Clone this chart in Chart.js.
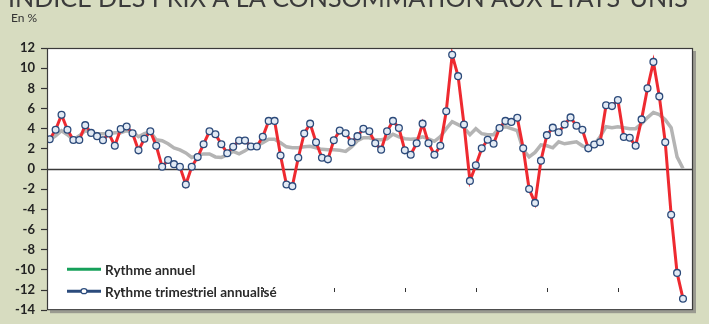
<!DOCTYPE html>
<html>
<head>
<meta charset="utf-8">
<script src="https://cdn.jsdelivr.net/npm/chart.js@4.4.1/dist/chart.umd.min.js"></script>
<style>
  html, body { margin: 0; padding: 0; background: #d7dcc0; }
  #wrap { position: relative; width: 709px; height: 324px; }
</style>
</head>
<body>
<div id="wrap"><canvas id="c" width="709" height="324"></canvas></div>
<script>
// Monthly observations, January 2000 to December 2008
const years = [2000, 2001, 2002, 2003, 2004, 2005, 2006, 2007, 2008];
const months = ['janv.', 'févr.', 'mars', 'avr.', 'mai', 'juin', 'juil.', 'août', 'sept.', 'oct.', 'nov.', 'déc.'];
const categories = years.flatMap(y => months.map(m => m + ' ' + y));

// Year-on-year rate, %
const annualRate = [
  2.9, 3.3, 3.8, 3.4, 2.9, 3.3, 3.8, 3.6, 3.5, 3.5, 3.5, 3.6,
  3.6, 3.8, 3.7, 3.2, 3.5, 3.7, 2.9, 2.8, 2.5, 2.1, 1.9, 1.6,
  1.15, 1.35, 1.5, 1.5, 1.2, 1.15, 1.4, 1.75, 1.5, 1.8, 2.2, 2.3,
  2.6, 2.95, 2.95, 2.6, 2.2, 2.1, 2.1, 2.2, 2.25, 2.1, 1.95, 1.9,
  1.9, 1.85, 1.75, 2.2, 2.8, 3.1, 3.1, 2.9, 2.9, 3.0, 3.45, 3.2,
  3.0, 2.95, 3.0, 3.2, 3.0, 2.75, 3.2, 4.0, 4.7, 4.4, 4.1, 3.4,
  4.0, 3.5, 3.4, 3.4, 4.1, 4.2, 4.0, 3.8, 1.9, 1.2, 1.65, 2.4,
  2.3, 2.1, 2.7, 2.5, 2.6, 2.7, 2.3, 2.1, 2.4, 3.2, 4.2, 4.1,
  4.2, 4.1, 4.0, 4.0, 4.5, 5.1, 5.6, 5.4, 4.9, 4.1, 1.2, 0.05
];

// Three-month rate, annualised, %
const quarterlyAnnualized = [
  2.95, 3.9, 5.37, 3.9, 2.88, 2.88, 4.35, 3.58, 3.26, 2.85, 3.52, 2.3,
  3.97, 4.22, 3.55, 1.85, 3.0, 3.74, 2.3, 0.22, 0.9, 0.48, 0.22, -1.54,
  0.22, 1.18, 2.46, 3.74, 3.45, 2.46, 1.57, 2.2, 2.82, 2.82, 2.24, 2.24,
  3.2, 4.77, 4.77, 1.34, -1.54, -1.7, 1.12, 3.52, 4.5, 2.66, 1.12, 0.96,
  2.85, 3.81, 3.55, 2.66, 3.26, 4.0, 3.74, 2.56, 1.92, 3.74, 4.77, 4.06,
  1.85, 1.41, 2.56, 4.5, 2.56, 1.41, 2.3, 5.73, 11.32, 9.21, 4.41, -1.18,
  0.38, 2.05, 2.9, 2.5, 4.06, 4.77, 4.67, 5.09, 2.05, -1.98, -3.36, 0.83,
  3.36, 4.1, 3.65, 4.41, 5.12, 4.29, 3.9, 2.05, 2.43, 2.66, 6.33, 6.24,
  6.84, 3.17, 3.1, 2.3, 4.92, 8.0, 10.62, 7.2, 2.66, -4.54, -10.3, -12.86
];

const yTickMin = -14, yTickMax = 12, yTickStep = 2;
const titleText = 'INDICE DES PRIX À LA CONSOMMATION AUX ÉTATS-UNIS';
const unitText = 'En %';
const seriesNames = ['Rythme annuel', 'Rythme trimestriel annualisé'];

const toPoints = arr => arr.map((v, i) => ({ x: i, y: v }));
const FONT = 'Lato, "Open Sans", sans-serif';

// White plotting panel, frame with a soft shadow, year marks, legend and headings
const decor = {
  id: 'decor',
  beforeDatasetsDraw(chart) {
    const { ctx, chartArea: a } = chart;
    ctx.save();
    ctx.fillStyle = '#9a9a90';
    ctx.fillRect(a.left + 3, a.top + 3, a.right - a.left, a.bottom - a.top);
    ctx.fillStyle = '#ffffff';
    ctx.fillRect(a.left, a.top, a.right - a.left, a.bottom - a.top);
    // zero line
    const y0 = Math.round(chart.scales.y.getPixelForValue(0)) + 0.5;
    ctx.strokeStyle = '#3a3a3a';
    ctx.lineWidth = 1.4;
    ctx.beginPath();
    ctx.moveTo(a.left, y0);
    ctx.lineTo(a.right, y0);
    ctx.stroke();
    ctx.restore();
  },
  afterDatasetsDraw(chart) {
    const { ctx, chartArea: a, scales } = chart;
    ctx.save();
    // January marks along the -12 level
    const yb = scales.y.getPixelForValue(-12);
    ctx.strokeStyle = '#333';
    ctx.lineWidth = 1;
    for (let i = 12; i < categories.length; i += 12) {
      const x = Math.round(scales.x.getPixelForValue(i)) + 0.5;
      ctx.beginPath();
      ctx.moveTo(x, yb - 2);
      ctx.lineTo(x, yb + 2);
      ctx.stroke();
    }
    // frame
    ctx.strokeStyle = '#3a3a3a';
    ctx.lineWidth = 1.2;
    ctx.strokeRect(a.left + 0.5, a.top + 0.5, a.right - a.left - 1, a.bottom - a.top - 1);

    // legend
    const lx = a.left + 20, lw = 34;
    const rows = [
      { y: a.bottom - 41, color: '#16a05a', marker: false, text: chart.data.datasets[0].label },
      { y: a.bottom - 19, color: '#2b4b7c', marker: true, text: chart.data.datasets[1].label }
    ];
    ctx.font = 'bold 13.5px ' + FONT;
    ctx.textBaseline = 'middle';
    rows.forEach(r => {
      ctx.strokeStyle = r.color;
      ctx.lineWidth = 3;
      ctx.beginPath();
      ctx.moveTo(lx, r.y);
      ctx.lineTo(lx + lw, r.y);
      ctx.stroke();
      if (r.marker) {
        ctx.fillStyle = '#ffffff';
        ctx.lineWidth = 1.2;
        ctx.beginPath();
        ctx.ellipse(lx + lw / 2, r.y, 3, 2.5, 0, 0, Math.PI * 2);
        ctx.fill();
        ctx.stroke();
      }
      ctx.fillStyle = '#2a2a2a';
      ctx.fillText(r.text, lx + lw + 4, r.y + 1);
    });

    // headings
    ctx.fillStyle = '#333';
    ctx.textBaseline = 'alphabetic';
    ctx.font = '12px ' + FONT;
    ctx.fillText(unitText, 11, 22);
    let size = 22;
    ctx.font = size + 'px ' + FONT;
    const w = ctx.measureText(titleText).width;
    size = size * 680 / w;
    ctx.font = size + 'px ' + FONT;
    ctx.fillStyle = '#3b3b3b';
    ctx.fillText(titleText, 8, 7);
    ctx.restore();
  }
};

new Chart(document.getElementById('c'), {
  type: 'line',
  data: {
    labels: categories,
    datasets: [
      {
        label: seriesNames[0],
        data: toPoints(annualRate),
        borderColor: '#b4b4b4',
        borderWidth: 3.5,
        pointRadius: 0,
        tension: 0,
        order: 2
      },
      {
        label: seriesNames[1],
        data: toPoints(quarterlyAnnualized),
        borderColor: '#ee2a30',
        borderWidth: 3,
        pointRadius: 3.4,
        pointBackgroundColor: '#e2eaf4',
        pointBorderColor: '#2c4a7a',
        pointBorderWidth: 1.3,
        tension: 0,
        order: 1
      }
    ]
  },
  options: {
    responsive: false,
    animation: false,
    devicePixelRatio: 1,
    layout: { padding: { top: 48, right: 16, bottom: 5, left: 0 } },
    plugins: { legend: { display: false }, tooltip: { enabled: false }, title: { display: false } },
    scales: {
      x: {
        type: 'linear',
        display: false,
        min: -0.456,
        max: 108.69
      },
      y: {
        min: yTickMin,
        max: yTickMax,
        afterFit: s => { s.width = 47; },
        ticks: {
          stepSize: yTickStep,
          color: '#222',
          padding: 6,
          font: { family: FONT, size: 13, weight: 'bold' }
        },
        grid: {
          drawOnChartArea: false,
          drawTicks: true,
          tickLength: 6,
          tickColor: '#333',
          tickWidth: 1.2
        },
        border: { display: false }
      }
    }
  },
  plugins: [decor]
});
</script>
</body>
</html>
